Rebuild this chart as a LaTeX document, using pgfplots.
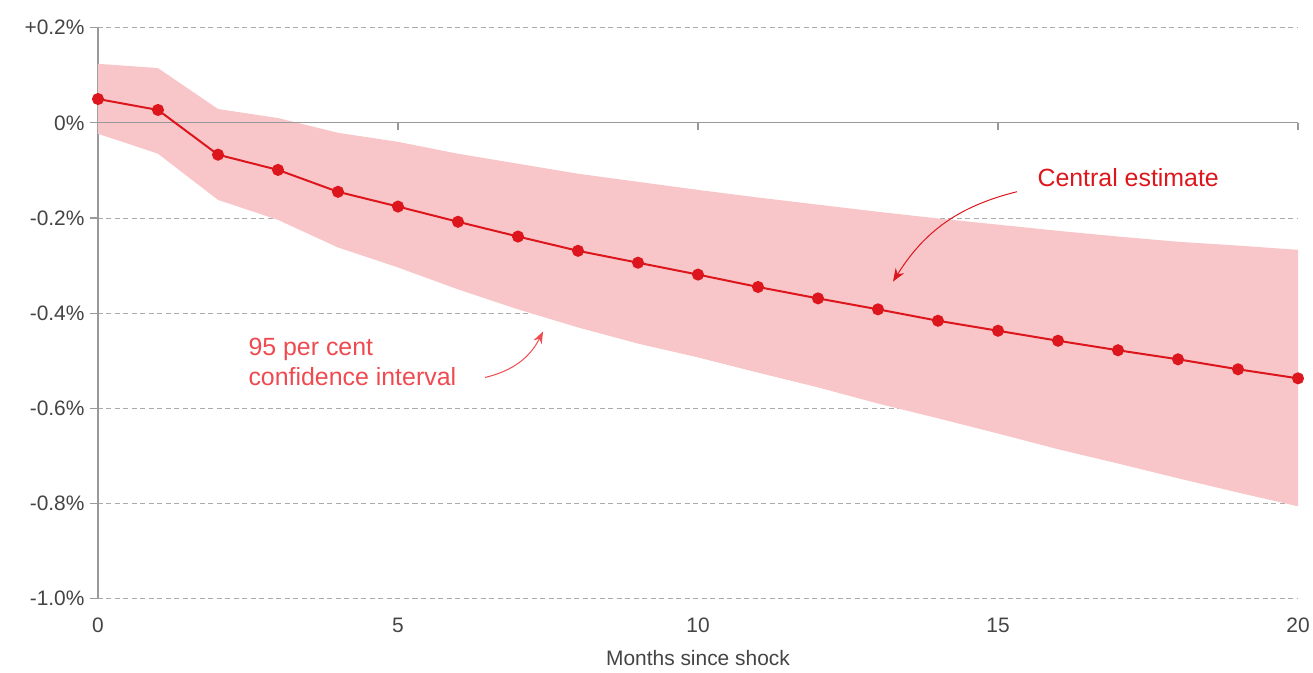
\documentclass[border=0pt]{standalone}
\usepackage{fontspec}
\setmainfont{Liberation Sans}
\usepackage{pgfplots}
\pgfplotsset{compat=1.18}
\usetikzlibrary{arrows.meta}
\definecolor{band}{HTML}{F8C6C8}
\definecolor{cred}{HTML}{DC161C}
\definecolor{lred}{HTML}{EE4A50}
\definecolor{gridc}{HTML}{ABABAB}
\definecolor{axc}{HTML}{999999}
\definecolor{txt}{HTML}{444444}
\begin{document}
\begin{tikzpicture}
\begin{axis}[
  scale only axis, width=1200bp, height=571bp,
  xmin=0, xmax=20, ymin=-1.0, ymax=0.2,
  clip=false,
  axis lines*=left,
  x axis line style={draw=none},
  y axis line style={draw=axc, line width=1.2bp},
  xtick={0,5,10,15,20},
  xticklabels={0,5,10,15,20},
  xtick style={draw=none},
  ytick={-1.0,-0.8,-0.6,-0.4,-0.2,0,0.2},
  yticklabels={-1.0\%,-0.8\%,-0.6\%,-0.4\%,-0.2\%,0\%,+0.2\%},
  ytick style={draw=axc, line width=1.2bp},
  major tick length=8bp,
  tick align=outside,
  ymajorgrids,
  major grid style={draw=gridc, line width=0.9bp, dash pattern=on 5bp off 3.5bp},
  /pgf/number format/assume math mode=true,
  ticklabel style={font=\fontsize{21}{24}\selectfont, text=txt},
  yticklabel style={xshift=-2bp},
  xticklabel style={yshift=-8bp},
  xlabel={Months since shock},
  xlabel style={font=\fontsize{21}{24}\selectfont, text=txt, yshift=-11bp},
]
% confidence band
\addplot[draw=none, fill=band] coordinates {
(0,0.124) (1,0.115) (2,0.029) (3,0.010) (4,-0.021) (5,-0.040) (6,-0.065) (7,-0.086) (8,-0.107) (9,-0.124) (10,-0.141) (11,-0.157) (12,-0.172) (13,-0.187) (14,-0.201) (15,-0.214) (16,-0.227) (17,-0.239) (18,-0.250) (19,-0.258) (20,-0.267)
(20,-0.806) (19,-0.777) (18,-0.747) (17,-0.716) (16,-0.686) (15,-0.653) (14,-0.621) (13,-0.590) (12,-0.556) (11,-0.525) (10,-0.493) (9,-0.464) (8,-0.430) (7,-0.392) (6,-0.350) (5,-0.304) (4,-0.262) (3,-0.204) (2,-0.162) (1,-0.065) (0,-0.023)
} -- cycle;
% zero line
\draw[axc, line width=1.2bp] ([xshift=-8bp]axis cs:0,0) -- (axis cs:20,0);
\draw[axc, line width=1.2bp] (axis cs:5,0) -- ([yshift=-7bp]axis cs:5,0);
\draw[axc, line width=1.2bp] (axis cs:10,0) -- ([yshift=-7bp]axis cs:10,0);
\draw[axc, line width=1.2bp] (axis cs:15,0) -- ([yshift=-7bp]axis cs:15,0);
\draw[axc, line width=1.2bp] (axis cs:20,0) -- ([yshift=-7bp]axis cs:20,0);
% central estimate
\addplot[cred, line width=2bp, mark=*, mark size=5bp, mark options={fill=cred, draw=cred}] coordinates {
(0,0.050) (1,0.027) (2,-0.067) (3,-0.099) (4,-0.145) (5,-0.176) (6,-0.208) (7,-0.239) (8,-0.269) (9,-0.294) (10,-0.319) (11,-0.345) (12,-0.369) (13,-0.392) (14,-0.416) (15,-0.437) (16,-0.458) (17,-0.478) (18,-0.497) (19,-0.518) (20,-0.537)
};
% annotations
\node[text=cred, font=\fontsize{25}{30}\selectfont] at (axis cs:17.17,-0.1154) {Central estimate};
\draw[cred, line width=1bp, -{Stealth[length=13bp, width=10bp]}] (axis cs:15.317,-0.1448) to[bend right=22] (axis cs:13.25,-0.3337);
\node[text=lred, font=\fontsize{25}{30}\selectfont, anchor=west, align=left] at (axis cs:2.45,-0.5016) {95 per cent\\confidence interval};
\draw[lred, line width=1bp, -{Stealth[length=12bp, width=9bp]}] (axis cs:6.45,-0.5352) to[bend right=25] (axis cs:7.417,-0.4386);
\coordinate (bl) at (axis cs:-1.6333,-1.1542);
\coordinate (tr) at (axis cs:20.25,0.2581);
\end{axis}
\pgfresetboundingbox
\path[use as bounding box] (bl) rectangle (tr);
\end{tikzpicture}
\end{document}
